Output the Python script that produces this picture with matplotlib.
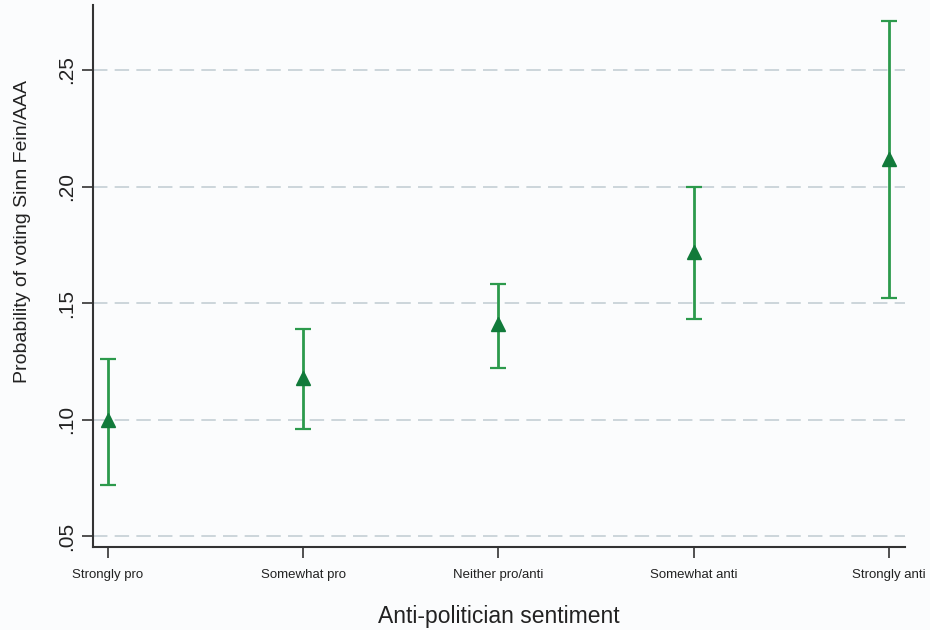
import matplotlib.pyplot as plt
import numpy as np

plt.rcParams['font.family'] = ['Liberation Sans', 'DejaVu Sans']

categories = ["Strongly pro", "Somewhat pro", "Neither pro/anti", "Somewhat anti", "Strongly anti"]
prob = [0.100, 0.118, 0.141, 0.172, 0.212]
ci_low = [0.072, 0.096, 0.122, 0.143, 0.152]
ci_high = [0.126, 0.139, 0.158, 0.200, 0.271]
yticks = [0.05, 0.10, 0.15, 0.20, 0.25]
ytick_labels = [".05", ".10", ".15", ".20", ".25"]

x = np.arange(1, len(categories) + 1)
prob = np.array(prob)
err = [prob - np.array(ci_low), np.array(ci_high) - prob]

bg = '#fbfcfd'
fig = plt.figure(figsize=(9.3, 6.3), dpi=100, facecolor=bg)
ax = fig.add_axes([0.1, 0.1317, 0.873, 0.8603], facecolor=bg)

for y in yticks:
    ax.axhline(y, color='#c9d3d8', lw=1.3, dashes=(8, 4), zorder=0)

ax.errorbar(x, prob, yerr=err, fmt='none', ecolor='#2c9a4c', elinewidth=2,
            capsize=5.5, capthick=1.6, zorder=2)
ax.plot(x, prob, '^', color='#117a3a', ms=9.5, zorder=3)

ax.set_xlim(0.923, 5.082)
ax.set_ylim(0.0453, 0.2779)
ax.set_yticks(yticks)
ax.set_yticklabels(ytick_labels, rotation=90, va='center', fontsize=15, color='#222222')
ax.set_xticks(x)
ax.set_xticklabels(categories, fontsize=9.5, color='#222222')
ax.tick_params(axis='both', length=8, width=1.2, color='#333333')
ax.tick_params(axis='x', pad=8)
ax.tick_params(axis='y', pad=4)

for side in ['top', 'right']:
    ax.spines[side].set_visible(False)
for side in ['left', 'bottom']:
    ax.spines[side].set_linewidth(1.5)
    ax.spines[side].set_color('#333333')

ax.set_ylabel("Probability of voting Sinn Fein/AAA", fontsize=14, color='#222222')
ax.yaxis.set_label_coords(-0.076, 0.583)
ax.set_xlabel("Anti-politician sentiment", fontsize=16.5, color='#222222', labelpad=17)

fig.savefig("out.png", dpi=100, facecolor=bg)
